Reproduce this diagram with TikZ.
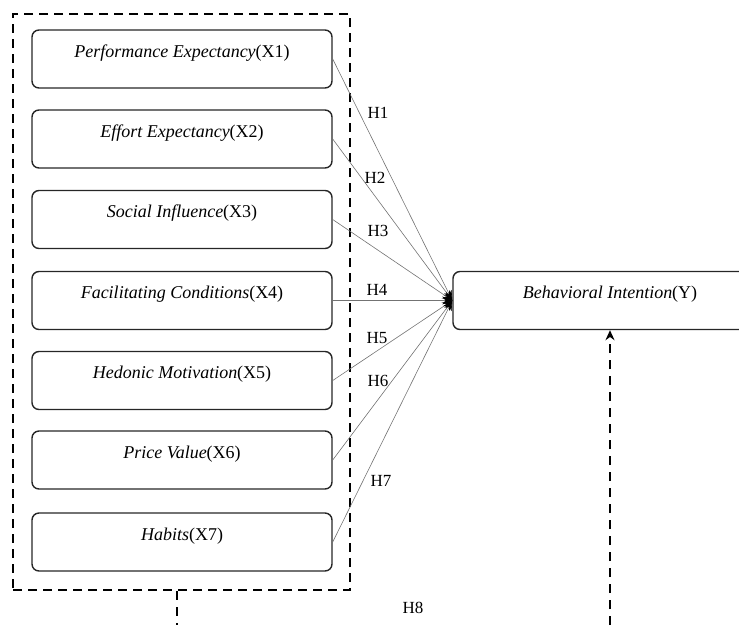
\documentclass[tikz,border=0pt]{standalone}
\usepackage{fontspec}
\setmainfont{Liberation Serif}
\usetikzlibrary{arrows.meta}
\begin{document}
\begin{tikzpicture}[x=1pt,y=-1pt,
  factor/.style={draw=black!85,line width=1.4pt,rounded corners=7pt,minimum width=300pt,
    inner xsep=0pt,inner ysep=0pt,text height=27pt,text depth=31pt,
    font=\fontsize{18}{21}\selectfont},
  hyp/.style={draw=black!55,line width=0.6pt,-{Stealth[length=10pt,width=8pt,black]}},
  hlab/.style={font=\fontsize{17}{20}\selectfont,inner sep=0pt},
  grpbox/.style={draw=black,line width=2.6pt,dash pattern=on 9pt off 6pt,minimum width=337pt,minimum height=576pt,inner sep=0pt},
  dasharrow/.style={draw=black,line width=2.6pt,dash pattern=on 9pt off 7pt}]
\useasboundingbox (0,0) rectangle (739,625);
\node[grpbox] (grp) at (181.5,302) {};
\node[factor] (x1) at (182,59) {\textit{Performance Expectancy}(X1)};
\node[factor] (x2) at (182,139) {\textit{Effort Expectancy}(X2)};
\node[factor] (x3) at (182,219.5) {\textit{Social Influence}(X3)};
\node[factor] (x4) at (182,300.5) {\textit{Facilitating Conditions}(X4)};
\node[factor] (x5) at (182,380.5) {\textit{Hedonic Motivation}(X5)};
\node[factor] (x6) at (182,460) {\textit{Price Value}(X6)};
\node[factor] (x7) at (182,542) {\textit{Habits}(X7)};
\node[factor,minimum width=314pt] (y) at (610,300.5) {\textit{Behavioral Intention}(Y)};
\foreach \i in {1,...,7} {\draw[hyp] (x\i.east) -- (y.west);}
\node[hlab] (h1) at (378,113) {H1};
\node[hlab] (h2) at (375,178) {H2};
\node[hlab] (h3) at (378,231) {H3};
\node[hlab] (h4) at (377,290) {H4};
\node[hlab] (h5) at (377,338) {H5};
\node[hlab] (h6) at (378,381) {H6};
\node[hlab] (h7) at (381,481) {H7};
\node[hlab] (h8) at (413,608) {H8};
\coordinate (stub) at (177,625);
\coordinate (up) at (610,625);
\draw[dasharrow] (grp.south -| stub) -- (stub);
\draw[dasharrow,-{Stealth[length=10pt,width=9pt]}] (up) -- (y.south);
\end{tikzpicture}
\end{document}
